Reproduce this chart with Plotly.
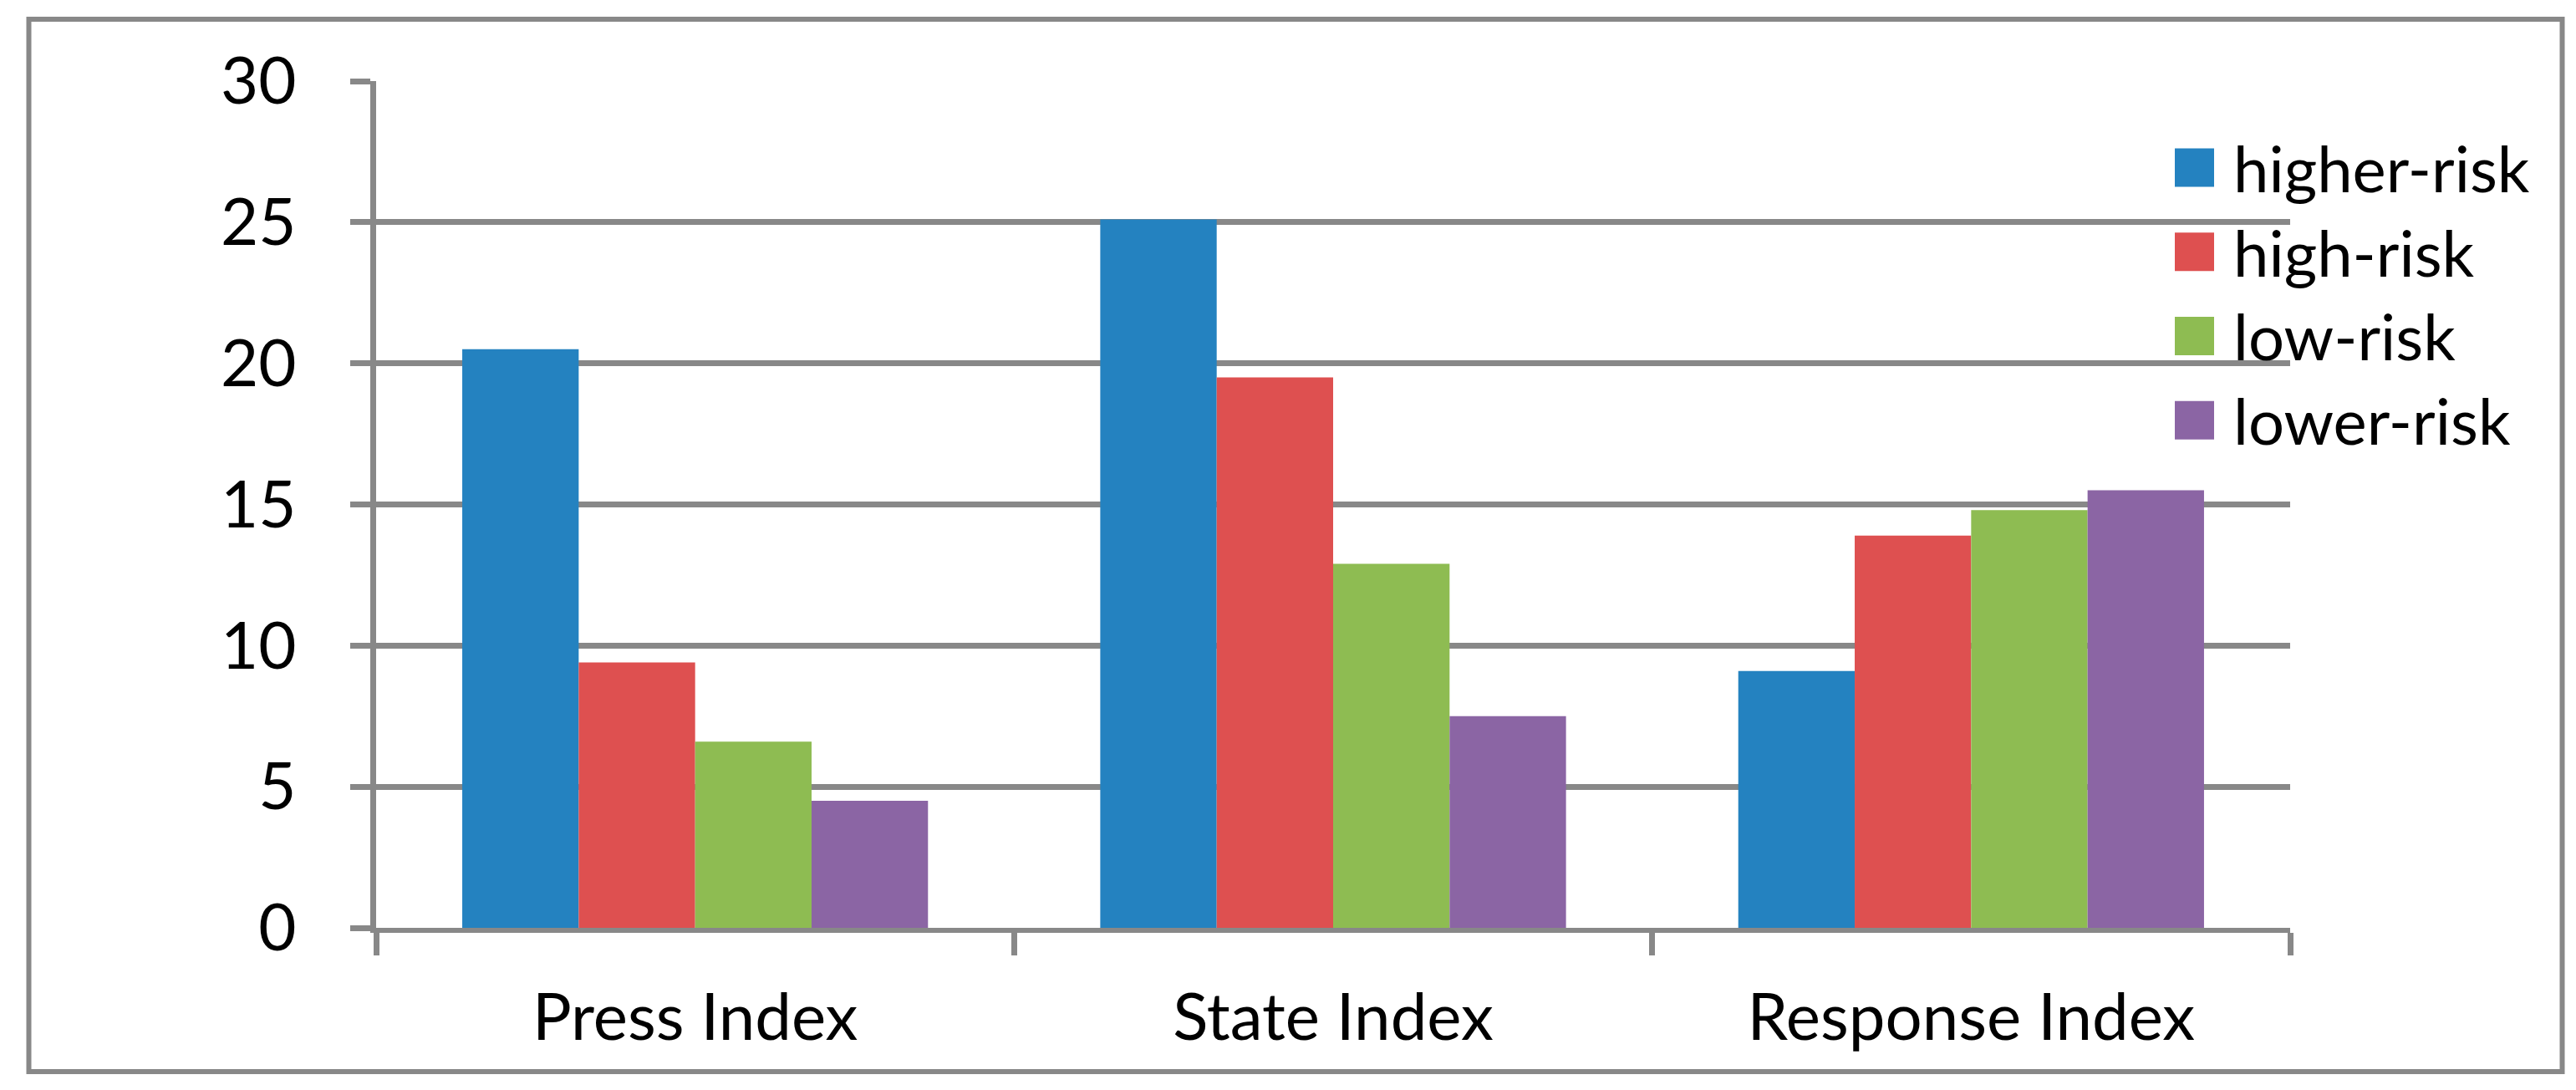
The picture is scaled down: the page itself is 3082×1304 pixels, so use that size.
import plotly.graph_objects as go

categories = ["Press Index", "State Index", "Response Index"]
series_names = ["higher-risk", "high-risk", "low-risk", "lower-risk"]
higher_risk = [20.5, 25.1, 9.1]
high_risk = [9.4, 19.5, 13.9]
low_risk = [6.6, 12.9, 14.8]
lower_risk = [4.5, 7.5, 15.5]
y_ticks = [0, 5, 10, 15, 20, 25, 30]

series_values = [higher_risk, high_risk, low_risk, lower_risk]
colors = ["#2482C0", "#DE5050", "#8EBC52", "#8B65A4"]
GRAY = "#888888"
FONT = "Lato"
FS = 77

OFF = 8  # default page body margin
W, H = 3082 - 2 * OFF, 1304 - 2 * OFF
# target positions measured in the screenshot, converted to figure coordinates
L, R, T, B = 450 - OFF, 2740 - OFF, 96.5 - OFF, 1110 - OFF

def px(x):
    return (x - OFF - L) / (R - L)

def py(y):
    return (B - (y - OFF)) / (B - T)

fig = go.Figure()
for name, vals, col in zip(series_names, series_values, colors):
    fig.add_trace(go.Bar(x=categories, y=vals, name=name,
                         marker=dict(color=col, line=dict(width=0)),
                         showlegend=False))

fig.update_layout(
    width=W, height=H,
    margin=dict(l=L, r=W - R, t=T, b=H - B, pad=0),
    paper_bgcolor="white", plot_bgcolor="white",
    barmode="group", bargap=0.27, bargroupgap=0,
    font=dict(family=FONT, size=FS, color="black"),
    xaxis=dict(type="category", showline=True, linecolor=GRAY, linewidth=6,
               ticks="outside", tickson="boundaries", ticklen=27, tickwidth=7,
               tickcolor=GRAY, showgrid=False, ticklabelstandoff=34,
               tickfont=dict(family=FONT, size=FS + 1, color="black")),
    yaxis=dict(range=[0, 30], tickvals=y_ticks, showline=True, linecolor=GRAY,
               linewidth=7, ticks="outside", ticklen=24, tickwidth=7,
               tickcolor=GRAY, showgrid=True, gridcolor=GRAY, gridwidth=7,
               zeroline=False, ticklabelstandoff=49,
               tickfont=dict(family=FONT, size=FS + 1, color="black")),
)

# outer border of the chart
fig.add_shape(type="rect", xref="paper", yref="paper",
              x0=px(34.5), x1=px(3065.5), y0=py(1282), y1=py(22.5),
              line=dict(color=GRAY, width=6), fillcolor="rgba(0,0,0,0)",
              layer="below")

# legend (large square swatches)
row_top = 177
row_step = 100.8
sw_w, sw_h = 47, 46
for i, (name, col) in enumerate(zip(series_names, colors)):
    top = row_top + i * row_step
    fig.add_shape(type="rect", xref="paper", yref="paper",
                  x0=px(2602), x1=px(2602 + sw_w), y0=py(top + sw_h), y1=py(top),
                  line=dict(width=0), fillcolor=col)
    fig.add_annotation(xref="paper", yref="paper", x=px(2670), y=py(top + sw_h / 2),
                       text=name, showarrow=False, xanchor="left", yanchor="middle",
                       font=dict(family=FONT, size=FS - 1, color="black"))

fig.write_html("out.html")
